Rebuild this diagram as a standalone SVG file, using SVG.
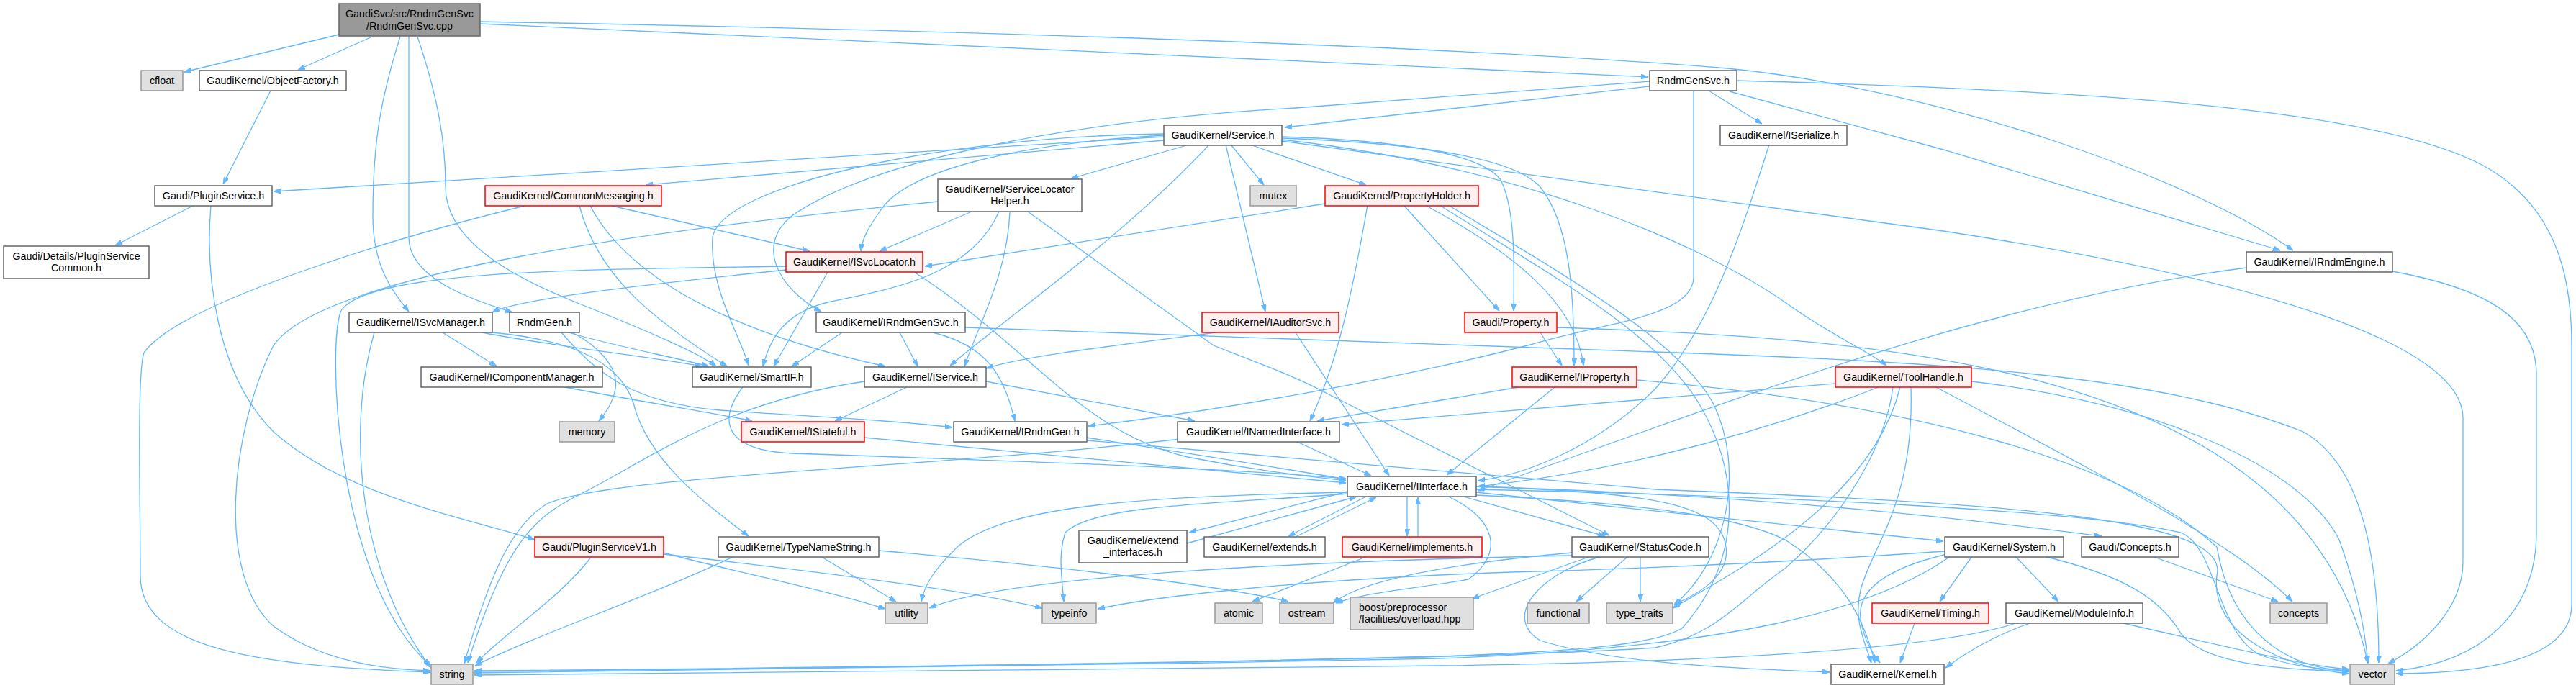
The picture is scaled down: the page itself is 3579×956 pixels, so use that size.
<svg xmlns="http://www.w3.org/2000/svg" width="3579" height="956" viewBox="0 0 3579 956">
<style>
.e{fill:none;stroke:#63b8ff;stroke-width:1.3;marker-end:url(#ah)}
.n rect{fill:#ffffff;stroke:#666666;stroke-width:1.5}
.r rect{fill:#fff0f0;stroke:#ff0000;stroke-width:1.5}
.g rect{fill:#e0e0e0;stroke:#999999;stroke-width:1.5}
.root rect{fill:#999999;stroke:#666666;stroke-width:1.5}
text{font-family:"Liberation Sans",Arial,sans-serif;font-size:14.3px;text-anchor:middle;fill:#000000}
text.l{text-anchor:start}
</style>
<defs>
<marker id="ah" viewBox="0 0 10 7" refX="10" refY="3.5" markerWidth="10" markerHeight="7" orient="auto" markerUnits="userSpaceOnUse"><path d="M0,0L10,3.5L0,7z" fill="#63b8ff" stroke="#63b8ff"/></marker>
</defs>
<rect x="0" y="0" width="3579" height="956" fill="#ffffff"/>
<g id="edges">
<path class="e" d="M471,48 L256,100"/>
<path class="e" d="M517,51 L414,97"/>
<path class="e" d="M556,51 C528,140 518,200 518,300 C518,370 545,405 568,433"/>
<path class="e" d="M568,51 L568,330 C568,385 650,415 712,434"/>
<path class="e" d="M580,51 C610,140 619,200 619,260 C619,330 700,380 800,420 C900,460 970,490 995,509"/>
<path class="e" d="M667,33 L2290,107"/>
<path class="e" d="M667,30 C1500,45 2100,70 2400,95 C2700,125 3050,250 3186,348"/>
<path class="e" d="M376,126 L310,256"/>
<path class="e" d="M268,286 L160,341"/>
<path class="e" d="M293,286 C285,380 300,520 380,600 C480,690 650,720 743,750"/>
<path class="e" d="M2292,120 L1785,177"/>
<path class="e" d="M2292,113 L1800,150 C1450,170 1200,230 1100,300 C1050,340 1080,400 1141,433"/>
<path class="e" d="M2374,126 L2448,172"/>
<path class="e" d="M2403,127 L2700,208 L3168,348"/>
<path class="e" d="M2413,112 C2900,125 3300,150 3450,230 C3560,290 3573,400 3573,480 L3573,840 C3573,900 3500,935 3329,936"/>
<path class="e" d="M2353,126 L2353,385 C2353,440 2230,448 2130,478 C1950,525 1700,570 1512,592"/>
<path class="e" d="M1617,190 L380,266"/>
<path class="e" d="M1617,195 L897,257"/>
<path class="e" d="M1652,201 L1488,248"/>
<path class="e" d="M1710,201 L1756,257"/>
<path class="e" d="M1737,201 L1898,257"/>
<path class="e" d="M1617,188 C1400,200 1260,240 1225,290 C1205,318 1198,332 1196,349"/>
<path class="e" d="M1703,201 L1758,433"/>
<path class="e" d="M1781,190 C1950,195 2060,215 2085,250 C2105,290 2104,360 2103,432"/>
<path class="e" d="M1781,192 C2000,200 2110,225 2140,260 C2180,310 2187,400 2187,508"/>
<path class="e" d="M1781,194 C2100,230 2350,330 2480,420 C2550,470 2600,490 2621,508"/>
<path class="e" d="M1781,196 L2700,321 C3150,390 3420,480 3422,580 L3422,780 C3422,850 3360,900 3318,922"/>
<path class="e" d="M1617,186 C1300,190 1000,260 990,330 C985,400 1030,470 1040,508"/>
<path class="e" d="M1680,201 C1560,330 1400,440 1320,508"/>
<path class="e" d="M2458,201 C2420,320 2380,450 2300,540 C2220,620 2120,660 2053,668"/>
<path class="e" d="M729,286 C550,330 250,420 200,490 C190,520 195,700 195,800 C195,900 350,925 598,934"/>
<path class="e" d="M850,286 L1125,349"/>
<path class="e" d="M805,286 C830,380 900,440 1010,509"/>
<path class="e" d="M820,286 C880,400 1050,470 1230,509"/>
<path class="e" d="M1350,294 L1222,349"/>
<path class="e" d="M1303,280 C900,320 450,380 380,480 C320,600 300,800 380,870 C440,915 520,930 598,932"/>
<path class="e" d="M1388,294 C1350,380 1250,400 1150,420 C1090,435 1070,470 1060,509"/>
<path class="e" d="M1403,294 C1400,380 1360,450 1340,509"/>
<path class="e" d="M1428,294 L1686,480 C1750,505 1800,523 1850,550 L2236,744"/>
<path class="e" d="M1092,370 C800,375 520,375 475,430 C455,460 460,800 598,925"/>
<path class="e" d="M1092,375 C900,395 720,415 684,434"/>
<path class="e" d="M1150,378 L1075,509"/>
<path class="e" d="M1270,378 C1430,480 1500,600 1650,635 C1750,655 1820,662 1870,668"/>
<path class="e" d="M1170,462 L1100,509"/>
<path class="e" d="M1250,462 L1275,509"/>
<path class="e" d="M1296,462 C1370,480 1395,520 1410,585"/>
<path class="e" d="M1341,455 L2300,489 C2700,503 3000,520 3200,600 C3290,650 3305,800 3305,921"/>
<path class="e" d="M615,462 L690,509"/>
<path class="e" d="M670,462 C760,480 900,495 975,509"/>
<path class="e" d="M684,462 C790,472 860,500 880,560 C900,640 980,700 1040,745"/>
<path class="e" d="M520,462 C480,600 500,800 599,928"/>
<path class="e" d="M790,462 C850,480 930,495 985,509"/>
<path class="e" d="M780,462 C830,520 880,560 1000,570 C1150,580 1250,585 1323,594"/>
<path class="e" d="M795,462 C830,480 860,510 855,540 C852,560 840,575 832,585"/>
<path class="e" d="M785,538 C900,560 1000,575 1045,585"/>
<path class="e" d="M1032,538 C1000,580 1000,625 1100,630 C1400,640 1700,650 1870,665"/>
<path class="e" d="M1260,538 L1160,585"/>
<path class="e" d="M1370,530 L1660,585"/>
<path class="e" d="M1201,530 C1000,560 900,640 800,690 C740,720 700,760 650,921"/>
<path class="e" d="M1201,608 L1870,671"/>
<path class="e" d="M1510,608 C1650,630 1780,650 1870,666"/>
<path class="e" d="M1510,612 L2300,680 C2800,700 3100,720 3080,800 C3070,880 3170,928 3264,936"/>
<path class="e" d="M1800,613 L1905,661"/>
<path class="e" d="M1640,610 C1300,650 850,660 760,700 C710,730 680,800 645,922"/>
<path class="e" d="M1690,462 C1550,480 1420,495 1370,512"/>
<path class="e" d="M1800,462 L1930,661"/>
<path class="e" d="M2140,462 L2170,508"/>
<path class="e" d="M2163,455 C2600,470 3200,500 3290,922"/>
<path class="e" d="M1950,285 L2083,432"/>
<path class="e" d="M1980,285 C2100,350 2190,420 2200,508"/>
<path class="e" d="M1841,283 L1285,370"/>
<path class="e" d="M1900,285 C1880,400 1860,500 1820,585"/>
<path class="e" d="M2000,285 C2150,380 2300,460 2360,560 C2420,660 2420,780 2337,873 C2300,895 2200,905 2000,912 C1500,925 900,930 659,932"/>
<path class="e" d="M2012,285 C2170,380 2330,470 2380,560 C2425,650 2400,780 2326,840"/>
<path class="e" d="M2550,533 L1864,590"/>
<path class="e" d="M2610,538 C2400,620 2200,660 2053,676"/>
<path class="e" d="M2640,538 C2600,700 2400,800 2324,845"/>
<path class="e" d="M2655,538 C2660,700 2600,760 2585,820 C2575,860 2590,890 2600,921"/>
<path class="e" d="M2630,538 C2620,620 2560,720 2480,790 C2420,830 2390,880 2300,900 C2000,920 1000,930 659,933"/>
<path class="e" d="M2690,538 C2900,650 3100,750 3185,836"/>
<path class="e" d="M2739,530 C3000,560 3200,650 3250,750 C3275,820 3285,870 3290,921"/>
<path class="e" d="M2160,538 L2010,660"/>
<path class="e" d="M2110,538 L1830,585"/>
<path class="e" d="M2274,528 C2650,560 2950,640 3080,760 C3100,880 3180,930 3264,932"/>
<path class="e" d="M3121,372 C2750,420 2400,560 2053,682"/>
<path class="e" d="M3324,377 C3450,400 3524,440 3524,520 L3524,740 C3524,850 3450,920 3329,932"/>
<path class="e" d="M1872,683 L1652,740"/>
<path class="e" d="M1649,755 L1885,690"/>
<path class="e" d="M1900,689 L1790,745"/>
<path class="e" d="M1800,746 L1912,691"/>
<path class="e" d="M1955,689 L1955,745"/>
<path class="e" d="M1970,746 L1970,691"/>
<path class="e" d="M2030,689 L2230,745"/>
<path class="e" d="M2051,684 L2700,752"/>
<path class="e" d="M2051,676 C2500,690 2800,730 2920,745"/>
<path class="e" d="M2051,688 C2300,700 2420,720 2480,750 C2560,800 2590,860 2605,921"/>
<path class="e" d="M2051,680 C2500,690 2900,710 3030,740 C3080,760 3080,880 3140,910 C3180,925 3220,930 3264,932"/>
<path class="e" d="M2010,689 C2080,720 2090,770 2040,805 C1990,815 1900,822 1856,838"/>
<path class="e" d="M2051,676 C2300,685 2390,700 2398,760 C2404,800 2360,825 2326,840"/>
<path class="e" d="M1872,686 C1700,700 1520,700 1480,740 C1470,770 1475,800 1478,836"/>
<path class="e" d="M1872,684 C1600,690 1400,700 1330,760 C1300,790 1285,810 1280,836"/>
<path class="e" d="M822,773 C780,830 700,880 662,921"/>
<path class="e" d="M922,768 C1000,790 1150,820 1230,846"/>
<path class="e" d="M922,770 C1100,790 1350,820 1448,845"/>
<path class="e" d="M1020,773 C900,830 750,880 660,925"/>
<path class="e" d="M1140,773 L1245,836"/>
<path class="e" d="M1221,765 C1500,790 1700,815 1790,836"/>
<path class="e" d="M1900,773 L1740,836"/>
<path class="e" d="M2210,773 L2045,832"/>
<path class="e" d="M2262,773 L2190,836"/>
<path class="e" d="M2279,773 L2279,836"/>
<path class="e" d="M2225,773 C2130,800 2090,860 2140,890 C2250,925 2450,930 2542,934"/>
<path class="e" d="M2184,768 C2050,780 1900,800 1852,838"/>
<path class="e" d="M2184,772 C1800,780 1400,800 1291,845"/>
<path class="e" d="M2705,770 C2620,790 2580,820 2585,860 C2590,890 2600,905 2612,921"/>
<path class="e" d="M2740,773 L2695,836"/>
<path class="e" d="M2800,773 L2860,836"/>
<path class="e" d="M2840,773 C2950,800 3000,830 3030,880 C3060,920 3150,930 3264,933"/>
<path class="e" d="M2710,773 C2600,850 2400,900 2000,915 C1500,925 900,934 659,935"/>
<path class="e" d="M2702,766 C2500,780 2300,790 2100,795 C1800,805 1600,830 1525,846"/>
<path class="e" d="M2660,866 L2640,921"/>
<path class="e" d="M2820,866 C2780,880 2740,900 2703,928"/>
<path class="e" d="M2950,866 C3100,900 3200,925 3264,930"/>
<path class="e" d="M2800,866 C2700,900 2400,920 2000,925 C1500,930 900,937 659,938"/>
<path class="e" d="M2990,773 L3165,836"/>
</g>
<g id="n0" class="root"><rect x="471" y="5" width="196" height="45"/><text x="569" y="24">GaudiSvc/src/RndmGenSvc</text><text x="569" y="41">/RndmGenSvc.cpp</text></g>
<g id="n1" class="g"><rect x="196" y="98" width="58" height="28"/><text x="225" y="117">cfloat</text></g>
<g id="n2" class="n"><rect x="277" y="98" width="204" height="28"/><text x="379" y="117">GaudiKernel/ObjectFactory.h</text></g>
<g id="n3" class="n"><rect x="2292" y="98" width="121" height="28"/><text x="2352.5" y="117">RndmGenSvc.h</text></g>
<g id="n4" class="n"><rect x="1617" y="174" width="164" height="28"/><text x="1699" y="193">GaudiKernel/Service.h</text></g>
<g id="n5" class="n"><rect x="2390" y="174" width="176" height="28"/><text x="2478" y="193">GaudiKernel/ISerialize.h</text></g>
<g id="n6" class="n"><rect x="215" y="258" width="163" height="28"/><text x="296.5" y="277">Gaudi/PluginService.h</text></g>
<g id="n7" class="r"><rect x="674" y="258" width="245" height="28"/><text x="796.5" y="277">GaudiKernel/CommonMessaging.h</text></g>
<g id="n8" class="n"><rect x="1303" y="249" width="200" height="45"/><text x="1403" y="268">GaudiKernel/ServiceLocator</text><text x="1403" y="284">Helper.h</text></g>
<g id="n9" class="g"><rect x="1737" y="258" width="64" height="28"/><text x="1769" y="277">mutex</text></g>
<g id="n10" class="r"><rect x="1841" y="258" width="213" height="28"/><text x="1947.5" y="277">GaudiKernel/PropertyHolder.h</text></g>
<g id="n11" class="n"><rect x="5" y="342" width="202" height="45"/><text x="106" y="361">Gaudi/Details/PluginService</text><text x="106" y="377">Common.h</text></g>
<g id="n12" class="r"><rect x="1092" y="350" width="190" height="28"/><text x="1187" y="369">GaudiKernel/ISvcLocator.h</text></g>
<g id="n13" class="n"><rect x="3121" y="350" width="203" height="28"/><text x="3222.5" y="369">GaudiKernel/IRndmEngine.h</text></g>
<g id="n14" class="n"><rect x="485" y="434" width="199" height="28"/><text x="584.5" y="453">GaudiKernel/ISvcManager.h</text></g>
<g id="n15" class="n"><rect x="708" y="434" width="97" height="28"/><text x="756.5" y="453">RndmGen.h</text></g>
<g id="n16" class="n"><rect x="1134" y="434" width="207" height="28"/><text x="1237.5" y="453">GaudiKernel/IRndmGenSvc.h</text></g>
<g id="n17" class="r"><rect x="1670" y="434" width="190" height="28"/><text x="1765" y="453">GaudiKernel/IAuditorSvc.h</text></g>
<g id="n18" class="r"><rect x="2035" y="434" width="128" height="28"/><text x="2099" y="453">Gaudi/Property.h</text></g>
<g id="n19" class="n"><rect x="585" y="510" width="252" height="28"/><text x="711" y="529">GaudiKernel/IComponentManager.h</text></g>
<g id="n20" class="n"><rect x="962" y="510" width="165" height="28"/><text x="1044.5" y="529">GaudiKernel/SmartIF.h</text></g>
<g id="n21" class="n"><rect x="1201" y="510" width="169" height="28"/><text x="1285.5" y="529">GaudiKernel/IService.h</text></g>
<g id="n22" class="r"><rect x="2101" y="510" width="173" height="28"/><text x="2187.5" y="529">GaudiKernel/IProperty.h</text></g>
<g id="n23" class="r"><rect x="2550" y="510" width="189" height="28"/><text x="2644.5" y="529">GaudiKernel/ToolHandle.h</text></g>
<g id="n24" class="g"><rect x="777" y="586" width="77" height="28"/><text x="815.5" y="605">memory</text></g>
<g id="n25" class="r"><rect x="1030" y="586" width="171" height="28"/><text x="1115.5" y="605">GaudiKernel/IStateful.h</text></g>
<g id="n26" class="n"><rect x="1325" y="586" width="185" height="28"/><text x="1417.5" y="605">GaudiKernel/IRndmGen.h</text></g>
<g id="n27" class="n"><rect x="1636" y="586" width="225" height="28"/><text x="1748.5" y="605">GaudiKernel/INamedInterface.h</text></g>
<g id="n28" class="n"><rect x="1872" y="662" width="179" height="28"/><text x="1961.5" y="681">GaudiKernel/IInterface.h</text></g>
<g id="n29" class="r"><rect x="743" y="746" width="179" height="28"/><text x="832.5" y="765">Gaudi/PluginServiceV1.h</text></g>
<g id="n30" class="n"><rect x="998" y="746" width="223" height="28"/><text x="1109.5" y="765">GaudiKernel/TypeNameString.h</text></g>
<g id="n31" class="n"><rect x="1499" y="737" width="150" height="45"/><text x="1574" y="756">GaudiKernel/extend</text><text x="1574" y="772">_interfaces.h</text></g>
<g id="n32" class="n"><rect x="1673" y="746" width="168" height="28"/><text x="1757" y="765">GaudiKernel/extends.h</text></g>
<g id="n33" class="r"><rect x="1865" y="746" width="194" height="28"/><text x="1962" y="765">GaudiKernel/implements.h</text></g>
<g id="n34" class="n"><rect x="2184" y="746" width="190" height="28"/><text x="2279" y="765">GaudiKernel/StatusCode.h</text></g>
<g id="n35" class="n"><rect x="2702" y="746" width="165" height="28"/><text x="2784.5" y="765">GaudiKernel/System.h</text></g>
<g id="n36" class="n"><rect x="2892" y="746" width="135" height="28"/><text x="2959.5" y="765">Gaudi/Concepts.h</text></g>
<g id="n37" class="g"><rect x="1230" y="838" width="59" height="28"/><text x="1259.5" y="857">utility</text></g>
<g id="n38" class="g"><rect x="1448" y="838" width="75" height="28"/><text x="1485.5" y="857">typeinfo</text></g>
<g id="n39" class="g"><rect x="1688" y="838" width="66" height="28"/><text x="1721" y="857">atomic</text></g>
<g id="n40" class="g"><rect x="1778" y="838" width="75" height="28"/><text x="1815.5" y="857">ostream</text></g>
<g id="n41" class="g"><rect x="1876" y="830" width="171" height="45"/><text class="l" x="1888" y="849">boost/preprocessor</text><text class="l" x="1888" y="865">/facilities/overload.hpp</text></g>
<g id="n42" class="g"><rect x="2122" y="838" width="86" height="28"/><text x="2165" y="857">functional</text></g>
<g id="n43" class="g"><rect x="2232" y="838" width="92" height="28"/><text x="2278" y="857">type_traits</text></g>
<g id="n44" class="r"><rect x="2601" y="838" width="162" height="28"/><text x="2682" y="857">GaudiKernel/Timing.h</text></g>
<g id="n45" class="n"><rect x="2787" y="838" width="190" height="28"/><text x="2882" y="857">GaudiKernel/ModuleInfo.h</text></g>
<g id="n46" class="g"><rect x="3154" y="838" width="79" height="28"/><text x="3193.5" y="857">concepts</text></g>
<g id="n47" class="g"><rect x="599" y="923" width="58" height="28"/><text x="628" y="942">string</text></g>
<g id="n48" class="n"><rect x="2544" y="923" width="157" height="28"/><text x="2622.5" y="942">GaudiKernel/Kernel.h</text></g>
<g id="n49" class="g"><rect x="3265" y="923" width="62" height="28"/><text x="3296" y="942">vector</text></g>
</svg>
